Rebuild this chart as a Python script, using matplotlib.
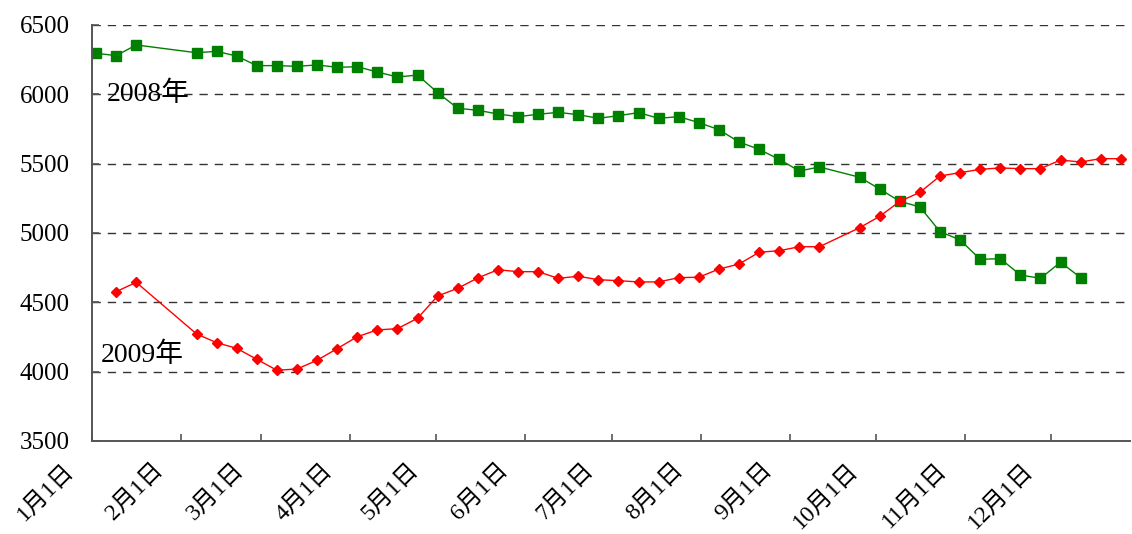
from matplotlib import pyplot as plt
from matplotlib import transforms
import numpy as np
import pandas as pd

# 周序号（从1月2日起每7天一期）
week_2008 = [0, 1, 2] + list(range(5, 37)) + list(range(38, 50))
price_2008 = [6296, 6279, 6356, 6300, 6310, 6276, 6207, 6207, 6202, 6212,
              6195, 6199, 6161, 6125, 6139, 6012, 5899, 5885, 5858, 5839,
              5856, 5870, 5853, 5827, 5846, 5868, 5827, 5839, 5796, 5745,
              5656, 5603, 5531, 5447, 5476, 5402, 5317, 5228, 5188, 5010,
              4950, 4810, 4815, 4697, 4673, 4789, 4678]

week_2009 = [1, 2] + list(range(5, 37)) + list(range(38, 52))
price_2009 = [4577, 4644, 4272, 4209, 4168, 4089, 4010, 4019, 4082, 4166,
              4252, 4301, 4310, 4385, 4546, 4601, 4676, 4735, 4721, 4721,
              4673, 4688, 4663, 4656, 4647, 4647, 4678, 4681, 4740, 4776,
              4861, 4872, 4901, 4901, 5038, 5120, 5228, 5293, 5411, 5435,
              5459, 5469, 5464, 5464, 5526, 5512, 5536, 5536]

month_labels = ['1月1日', '2月1日', '3月1日', '4月1日', '5月1日', '6月1日',
                '7月1日', '8月1日', '9月1日', '10月1日', '11月1日', '12月1日']
y_ticks = [3500, 4000, 4500, 5000, 5500, 6000, 6500]

# 设置字体格式
plt.rcParams['font.family'] = ['Liberation Serif', 'Noto Sans CJK SC']
plt.rcParams['font.size'] = 18

# 日期换算成当年的第几天
year_start = pd.Timestamp('2009-01-01')
first_day = (pd.Timestamp('2009-01-02') - year_start).days + 0.4


def to_day(weeks):
    return first_day + 7 * np.array(weeks)


month_days = [(d - year_start).days
              for d in pd.date_range('2009-01-01', periods=12, freq='MS')]

fig = plt.figure(figsize=(11.32, 5.34), dpi=100)
ax = fig.add_axes([0.0813, 0.1742, 0.9167, 0.779])

ax.plot(to_day(week_2008), price_2008, color='#008000', lw=1.0,
        marker='s', markersize=6.5)
ax.plot(to_day(week_2009), price_2009, color='#ff0000', lw=1.0,
        marker='D', markersize=5)

ax.set_xlim(0, 361.5)
ax.set_ylim(3500, 6500)
ax.set_yticks(y_ticks)
ax.set_xticks(month_days)
ax.set_xticklabels([])

# x轴标签：斜45度，整体往左下偏移
offset = transforms.ScaledTranslation(-21 / 100, -26 / 100, fig.dpi_scale_trans)
for d, lab in zip(month_days, month_labels):
    ax.text(d, 0, lab, rotation=45, ha='right', va='center',
            rotation_mode='anchor', fontsize=17,
            transform=ax.get_xaxis_transform() + offset)

ax.tick_params(axis='x', direction='in', length=5, width=1.2,
               color='#555555')
ax.tick_params(axis='y', direction='in', length=5, width=1.2,
               color='#555555', pad=16)

# 虚线网格
for v in y_ticks[1:]:
    ax.axhline(v, color='#333333', lw=1.0, ls=(0, (6, 5)), zorder=0)

for side in ['top', 'right']:
    ax.spines[side].set_visible(False)
for side in ['left', 'bottom']:
    ax.spines[side].set_color('#555555')
    ax.spines[side].set_linewidth(1.4)

ax.text(5, 6000, '2008年', ha='left', va='center', fontsize=20)
ax.text(3, 4120, '2009年', ha='left', va='center', fontsize=20)

plt.savefig('out.png', dpi=100)
